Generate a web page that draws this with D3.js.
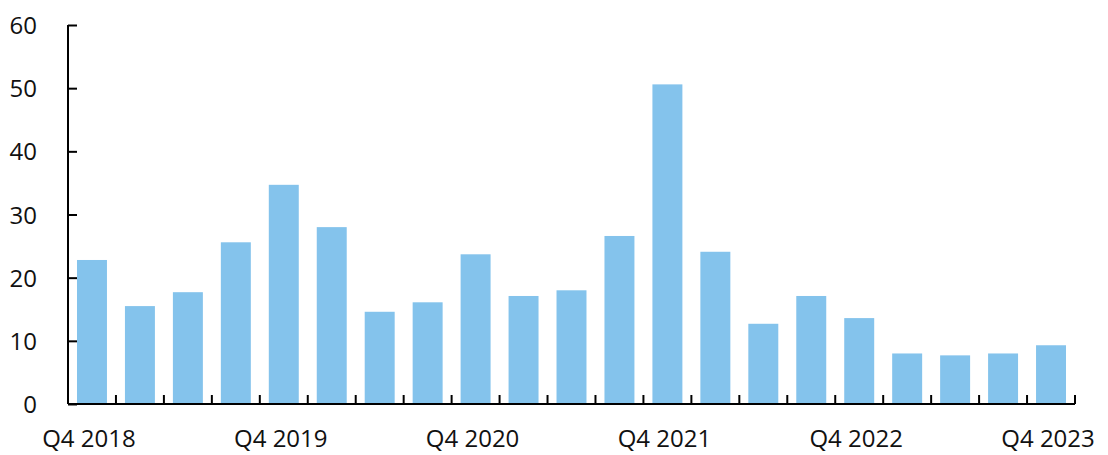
<!DOCTYPE html>
<html><head><meta charset="utf-8">
<script src="https://cdn.jsdelivr.net/npm/d3@7"></script>
<style>body{margin:0;background:#fff}svg{display:block}</style>
</head><body><svg id="c" width="1108" height="455"></svg>
<script>
const categories = ["Q4 2018","Q1 2019","Q2 2019","Q3 2019","Q4 2019","Q1 2020","Q2 2020","Q3 2020","Q4 2020","Q1 2021","Q2 2021","Q3 2021","Q4 2021","Q1 2022","Q2 2022","Q3 2022","Q4 2022","Q1 2023","Q2 2023","Q3 2023","Q4 2023"];
const values = [22.8,15.5,17.7,25.6,34.7,28.0,14.6,16.1,23.7,17.1,18.0,26.6,50.6,24.1,12.7,17.1,13.6,8.0,7.7,8.0,9.3];
const xTickLabels = ["Q4 2018","Q4 2019","Q4 2020","Q4 2021","Q4 2022","Q4 2023"];
const yTicks = [0,10,20,30,40,50,60];

(function(){
const svg = d3.select("#c");
const mL = 68, mR = 1075, mT = 25, mB = 404;
const x = d3.scaleBand().domain(categories).range([mL, mR]).paddingInner(0.375).paddingOuter(0.1875);
const y = d3.scaleLinear().domain([0, 60]).range([mB, mT]);
const font = "'Open Sans', 'Noto Sans', sans-serif";

svg.append("g").selectAll("rect").data(values).join("rect")
  .attr("x", (d, i) => x(categories[i]))
  .attr("width", x.bandwidth())
  .attr("y", d => y(d))
  .attr("height", d => y(0) - y(d))
  .attr("fill", "#84c3ec");

const ya = svg.append("g").attr("transform", `translate(${mL},0)`)
  .call(d3.axisRight(y).tickValues(yTicks).tickSize(9).tickFormat(d3.format("d")));
ya.select(".domain").attr("stroke", "#000").attr("stroke-width", 2).attr("d", `M0,${mT}V${mB}`);
ya.selectAll(".tick line").attr("stroke", "#000").attr("stroke-width", 2);
ya.selectAll(".tick text").attr("x", -31).attr("text-anchor", "end").attr("dy", "0.36em")
  .attr("font-family", font).attr("font-size", 24).attr("fill", "#111");

const xa = svg.append("g");
xa.append("line").attr("x1", mL).attr("x2", mR).attr("y1", mB).attr("y2", mB)
  .attr("stroke", "#000").attr("stroke-width", 2);
const step = x.step();
xa.selectAll("line.t").data(d3.range(1, categories.length + 1)).join("line").attr("class", "t")
  .attr("x1", i => mL + i * step).attr("x2", i => mL + i * step)
  .attr("y1", mB).attr("y2", mB - 9)
  .attr("stroke", "#000").attr("stroke-width", 2);
xa.selectAll("text").data(xTickLabels).join("text")
  .attr("x", d => x(d) + x.bandwidth() / 2 - 3)
  .attr("y", 447)
  .attr("text-anchor", "middle")
  .attr("font-family", font).attr("font-size", 24).attr("fill", "#111")
  .text(d => d);
})();
</script></body></html>
